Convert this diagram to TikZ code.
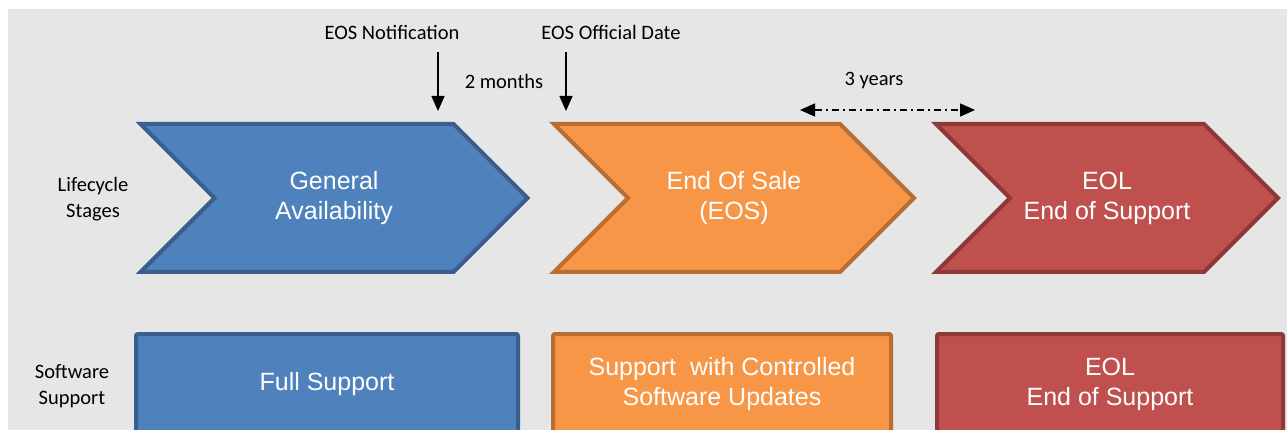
\documentclass[tikz,border=0pt]{standalone}
\usepackage{fontspec}
\setmainfont{Carlito}
\newfontfamily\boxfont{Liberation Sans}
\usetikzlibrary{shapes.symbols,arrows.meta}

\definecolor{bgGray}{HTML}{E6E6E6}
\definecolor{gaFill}{HTML}{4F81BD}
\definecolor{gaLine}{HTML}{3A5F8C}
\definecolor{eosFill}{HTML}{F79646}
\definecolor{eosLine}{HTML}{B86D32}
\definecolor{eolFill}{HTML}{C0504D}
\definecolor{eolLine}{HTML}{8C3A38}

\begin{document}
\begin{tikzpicture}[x=1pt, y=-1pt,
	stage/.style={signal, signal from=west, signal to=east, line width=4pt, text=white, align=center, inner sep=0pt, minimum height=148pt, font=\boxfont\fontsize{25}{30}\selectfont},
	supportbox/.style={rectangle, rounded corners=2pt, line width=4pt, text=white, align=center, inner sep=0pt, minimum height=100pt, font=\boxfont\fontsize{25}{30}\selectfont},
	note/.style={align=center, font=\fontsize{20.5}{26}\selectfont}]
			\useasboundingbox (0, 0) rectangle (1287, 430);
			\fill[bgGray] (8, 9) rectangle (1287, 430);

			% Lifecycle stages
			\node[stage, fill=gaFill, draw=gaLine, minimum width=387pt] (ga) at (334, 198) {General\\Availability};
			\node[stage, fill=eosFill, draw=eosLine, minimum width=360pt] (eos) at (734, 198) {End Of Sale\\(EOS)};
			\node[stage, fill=eolFill, draw=eolLine, minimum width=342pt] (eol) at (1107, 198) {EOL\\End of Support};
			\node[note] (stages) at (93, 199) {Lifecycle\\Stages};

			% Software support
			\node[supportbox, fill=gaFill, draw=gaLine, minimum width=382pt] (full) at (327, 384) {Full Support};
			\node[supportbox, fill=eosFill, draw=eosLine, minimum width=338pt] (ctrl) at (722, 384) {Support~ with Controlled\\Software Updates};
			\node[supportbox, fill=eolFill, draw=eolLine, minimum width=346pt] (eolsup) at (1110, 384) {EOL\\End of Support};
			\node[note] (software) at (72, 386) {Software\\Support};

			% Milestones
			\node[note] (notif) at (392, 32) {EOS Notification};
			\node[note] (official) at (611, 32) {EOS Official Date};
			\node[note] (months) at (504, 81) {2 months};
			\node[note] (years) at (874, 81) {3 years};
			\coordinate (notifend) at (438, 111);
			\coordinate (officialend) at (566, 111);
			\coordinate (yearsleft) at (800, 110);
			\coordinate (yearsright) at (975, 110);

			\draw[-{Triangle[width=13pt, length=15pt]}, line width=1.5pt] (notifend |- 0, 52) -- (notifend);
			\draw[-{Triangle[width=13pt, length=15pt]}, line width=1.5pt] (officialend |- 0, 52) -- (officialend);
			\draw[{Triangle[width=13pt, length=15pt]}-{Triangle[width=13pt, length=15pt]}, line width=1.3pt, dash pattern=on 7pt off 4pt on 2pt off 4pt] (yearsleft) -- (yearsright);
		\end{tikzpicture}
\end{document}
